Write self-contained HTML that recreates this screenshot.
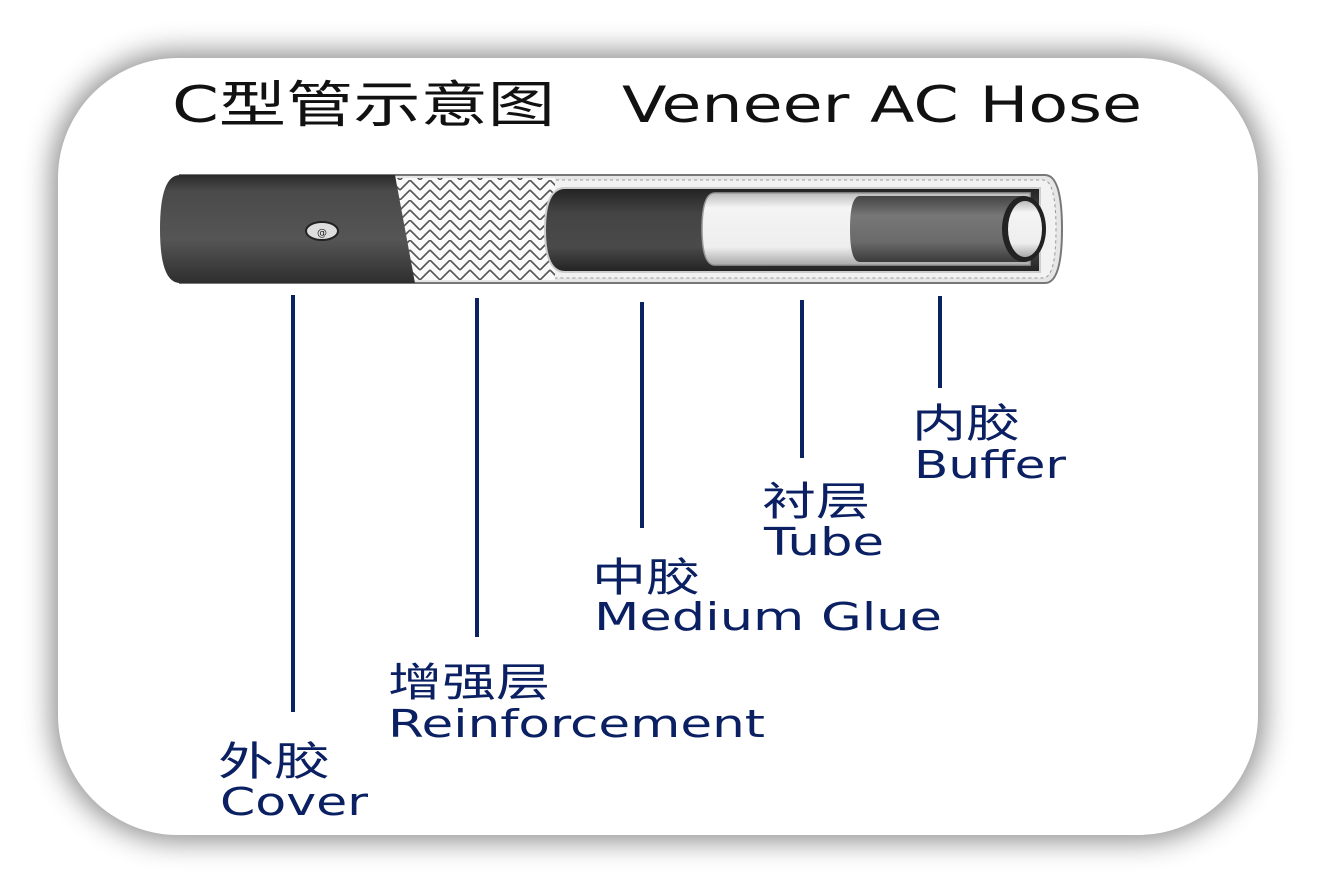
<!DOCTYPE html>
<html><head><meta charset="utf-8">
<style>
html,body{margin:0;padding:0;background:#fff;width:1317px;height:894px;overflow:hidden}
.card{position:absolute;left:58px;top:58px;width:1200px;height:777px;background:#fff;border-radius:120px;box-shadow:0 0 28px 6px rgba(0,0,0,.45)}
svg{position:absolute;left:0;top:0}
</style></head><body>
<div class="card"></div>
<svg width="1317" height="894" viewBox="0 0 1317 894">
<defs>
<linearGradient id="dk" x1="0" y1="0" x2="0" y2="1">
<stop offset="0" stop-color="#2a2a2a"/><stop offset=".15" stop-color="#4a4a4a"/><stop offset=".6" stop-color="#555"/><stop offset="1" stop-color="#2e2e2e"/></linearGradient>
<linearGradient id="md" x1="0" y1="0" x2="0" y2="1">
<stop offset="0" stop-color="#222"/><stop offset=".3" stop-color="#444"/><stop offset=".7" stop-color="#4a4a4a"/><stop offset="1" stop-color="#222"/></linearGradient>
<linearGradient id="wt" x1="0" y1="0" x2="0" y2="1">
<stop offset="0" stop-color="#bbb"/><stop offset=".2" stop-color="#f4f4f4"/><stop offset=".75" stop-color="#eee"/><stop offset="1" stop-color="#aaa"/></linearGradient>
<linearGradient id="gr" x1="0" y1="0" x2="0" y2="1">
<stop offset="0" stop-color="#444"/><stop offset=".3" stop-color="#777"/><stop offset=".7" stop-color="#6a6a6a"/><stop offset="1" stop-color="#3a3a3a"/></linearGradient>
<pattern id="braid" width="20" height="20" patternUnits="userSpaceOnUse">
<rect width="20" height="20" fill="#fafafa"/>
<path d="M0 10 L10 0 M0 20 L10 10 M10 10 L20 20 M10 0 L20 10" stroke="#555" stroke-width="1.6" fill="none"/>
</pattern>
</defs>
<path d="M180 175 H1045 Q1062 175 1062 229 Q1062 283 1045 283 H180 Z" fill="#e6e6e6" stroke="#777" stroke-width="2"/>
<path d="M400 180 H1043 Q1056 180 1056 229 Q1056 278 1043 278 H400 Z" fill="#f2f2f2" stroke="#999" stroke-width="1" stroke-dasharray="3 3"/>
<rect x="395" y="178" width="160" height="102" fill="url(#braid)"/>
<path d="M180 175 H395 L415 283 H180 Q160 283 160 229 Q160 175 180 175 Z" fill="url(#dk)"/>
<ellipse cx="322" cy="231" rx="16" ry="9" fill="#ddd" stroke="#222" stroke-width="2"/>
<text x="322" y="236" font-family="DejaVu Sans" font-size="10" text-anchor="middle" fill="#222">@</text>
<path d="M565 188 H1040 V272 H565 Q545 272 545 230 Q545 188 565 188 Z" fill="url(#md)" stroke="#ccc" stroke-width="2"/>
<path d="M715 193 H1030 V265 H715 Q702 265 702 229 Q702 193 715 193 Z" fill="url(#wt)" stroke="#999" stroke-width="1.5"/>
<path d="M860 196 H1025 V262 H860 Q850 262 850 229 Q850 196 860 196 Z" fill="url(#gr)"/>
<ellipse cx="1024" cy="229" rx="22" ry="33" fill="#222"/>
<ellipse cx="1025" cy="229" rx="17" ry="28" fill="url(#wt)"/>
<g stroke="#0b2262" stroke-width="4">
<line x1="293" y1="295" x2="293" y2="712"/>
<line x1="477" y1="298" x2="477" y2="637"/>
<line x1="642" y1="302" x2="642" y2="528"/>
<line x1="802" y1="300" x2="802" y2="458"/>
<line x1="940" y1="296" x2="940" y2="388"/>
</g>
<g font-family="DejaVu Sans, Noto Sans CJK SC, sans-serif" fill="#111">
<text x="172" y="122" font-size="50" textLength="383" lengthAdjust="spacingAndGlyphs">C型管示意图</text>
<text x="622" y="122" font-size="50" textLength="520" lengthAdjust="spacingAndGlyphs">Veneer AC Hose</text>
</g>
<g font-family="DejaVu Sans, Noto Sans CJK SC, sans-serif" fill="#0b2062" font-size="38">
<text x="218" y="775" font-size="40" textLength="112" lengthAdjust="spacingAndGlyphs">外胶</text>
<text x="220" y="815" textLength="148" lengthAdjust="spacingAndGlyphs">Cover</text>
<text x="388" y="696" font-size="40" textLength="162" lengthAdjust="spacingAndGlyphs">增强层</text>
<text x="388" y="737" textLength="377" lengthAdjust="spacingAndGlyphs">Reinforcement</text>
<text x="592" y="591" font-size="40" textLength="108" lengthAdjust="spacingAndGlyphs">中胶</text>
<text x="594" y="630" textLength="348" lengthAdjust="spacingAndGlyphs">Medium Glue</text>
<text x="762" y="515" font-size="40" textLength="108" lengthAdjust="spacingAndGlyphs">衬层</text>
<text x="764" y="555" textLength="120" lengthAdjust="spacingAndGlyphs">Tube</text>
<text x="912" y="437" font-size="40" textLength="108" lengthAdjust="spacingAndGlyphs">内胶</text>
<text x="914" y="478" textLength="152" lengthAdjust="spacingAndGlyphs">Buffer</text>
</g>
</svg>
</body></html>
